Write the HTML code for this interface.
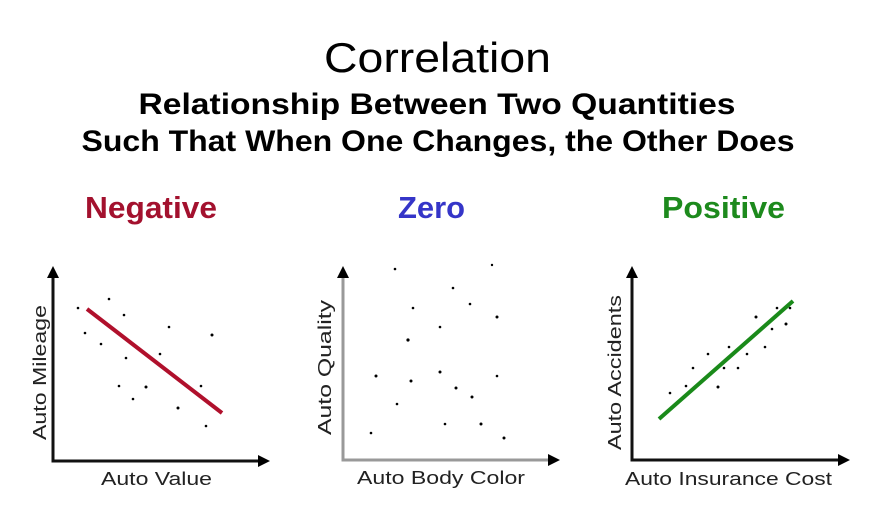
<!DOCTYPE html>
<html><head><meta charset="utf-8"><style>html,body{margin:0;padding:0;background:#fff;}svg{display:block}</style></head>
<body>
<svg width="875" height="530" viewBox="0 0 875 530" xmlns="http://www.w3.org/2000/svg" font-family="Liberation Sans, sans-serif">
<rect width="875" height="530" fill="#fff"/>
<text x="437.5" y="72" font-size="42" text-anchor="middle" textLength="227" lengthAdjust="spacingAndGlyphs">Correlation</text>
<text x="437" y="114" font-size="30" font-weight="bold" text-anchor="middle" textLength="597" lengthAdjust="spacingAndGlyphs">Relationship Between Two Quantities</text>
<text x="438" y="151" font-size="30" font-weight="bold" text-anchor="middle" textLength="713" lengthAdjust="spacingAndGlyphs">Such That When One Changes, the Other Does</text>
<text x="85" y="218" font-size="31" font-weight="bold" fill="#a3112e" textLength="132" lengthAdjust="spacingAndGlyphs">Negative</text>
<text x="398" y="218" font-size="31" font-weight="bold" fill="#3535c8" textLength="67" lengthAdjust="spacingAndGlyphs">Zero</text>
<text x="662" y="218" font-size="31" font-weight="bold" fill="#1d8a1d" textLength="123" lengthAdjust="spacingAndGlyphs">Positive</text>

<g stroke-width="3" fill="none">
<path d="M53 276V461H262" stroke="#111"/>
<path d="M343 276V460H552" stroke="#999"/>
<path d="M632 276V460H842" stroke="#111"/>
</g>
<g fill="#000">
<path d="M53 266l-6 12h12z M270 461l-12 -6v12z"/>
<path d="M343 266l-6 12h12z M560 460l-12 -6v12z"/>
<path d="M632 266l-6 12h12z M850 460l-12 -6v12z"/>
</g>
<line x1="87" y1="309" x2="222" y2="413" stroke="#b0102c" stroke-width="4"/>
<line x1="659" y1="419" x2="793" y2="301" stroke="#1a8a1a" stroke-width="4"/>
<g fill="#000">
<circle cx="78" cy="308" r="1.3"/><circle cx="109" cy="299" r="1.3"/><circle cx="124" cy="315" r="1.3"/><circle cx="85" cy="333" r="1.3"/><circle cx="101" cy="344" r="1.3"/><circle cx="126" cy="358" r="1.3"/><circle cx="169" cy="327" r="1.3"/><circle cx="160" cy="354" r="1.3"/><circle cx="212" cy="335" r="1.5"/><circle cx="119" cy="386" r="1.3"/><circle cx="146" cy="387" r="1.5"/><circle cx="133" cy="399" r="1.3"/><circle cx="201" cy="386" r="1.3"/><circle cx="178" cy="408" r="1.5"/><circle cx="206" cy="426" r="1.3"/>
<circle cx="395" cy="269" r="1.3"/><circle cx="492" cy="265" r="1.2"/><circle cx="453" cy="288" r="1.3"/><circle cx="413" cy="308" r="1.3"/><circle cx="470" cy="304" r="1.3"/><circle cx="497" cy="317" r="1.5"/><circle cx="440" cy="327" r="1.3"/><circle cx="408" cy="340" r="1.6"/><circle cx="376" cy="376" r="1.5"/><circle cx="411" cy="381" r="1.5"/><circle cx="440" cy="372" r="1.5"/><circle cx="497" cy="376" r="1.3"/><circle cx="456" cy="388" r="1.5"/><circle cx="472" cy="397" r="1.5"/><circle cx="397" cy="404" r="1.3"/><circle cx="445" cy="424" r="1.3"/><circle cx="481" cy="424" r="1.5"/><circle cx="371" cy="433" r="1.3"/><circle cx="504" cy="438" r="1.5"/>
<circle cx="670" cy="393" r="1.3"/><circle cx="686" cy="386" r="1.3"/><circle cx="693" cy="368" r="1.3"/><circle cx="708" cy="354" r="1.3"/><circle cx="718" cy="387" r="1.5"/><circle cx="724" cy="368" r="1.3"/><circle cx="729" cy="347" r="1.3"/><circle cx="738" cy="368" r="1.3"/><circle cx="747" cy="354" r="1.3"/><circle cx="756" cy="317" r="1.5"/><circle cx="765" cy="347" r="1.3"/><circle cx="772" cy="329" r="1.3"/><circle cx="786" cy="324" r="1.5"/><circle cx="777" cy="308" r="1.3"/><circle cx="790" cy="308" r="1.3"/>
</g>
<g font-size="18" fill="#222">
<text x="101" y="485" textLength="111" lengthAdjust="spacingAndGlyphs">Auto Value</text>
<text x="357" y="484" textLength="168" lengthAdjust="spacingAndGlyphs">Auto Body Color</text>
<text x="625" y="485" textLength="207" lengthAdjust="spacingAndGlyphs">Auto Insurance Cost</text>
<text transform="translate(46,440) rotate(-90)" textLength="135" lengthAdjust="spacingAndGlyphs">Auto Mileage</text>
<text transform="translate(331,435) rotate(-90)" textLength="135" lengthAdjust="spacingAndGlyphs">Auto Quality</text>
<text transform="translate(621,450) rotate(-90)" textLength="155" lengthAdjust="spacingAndGlyphs">Auto Accidents</text>
</g>
</svg>
</body></html>
